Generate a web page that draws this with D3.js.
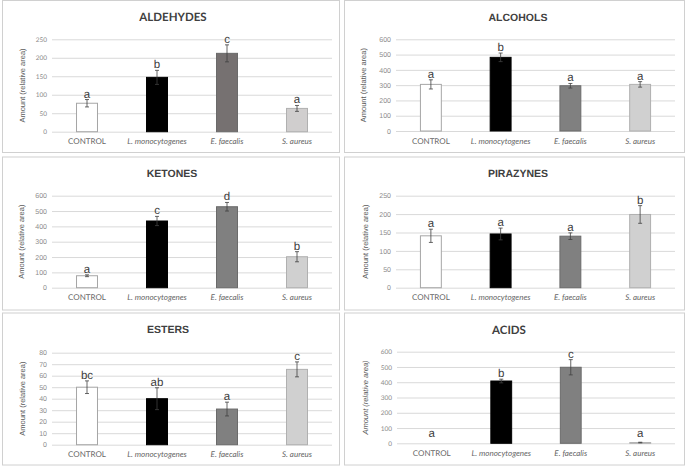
<!DOCTYPE html>
<html><head><meta charset="utf-8">
<script src="https://cdn.jsdelivr.net/npm/d3@7"></script>
<style>body{margin:0;background:#fff}svg{display:block}text{text-rendering:geometricPrecision}</style>
</head><body>
<svg id="c" width="685" height="468"></svg>
<script>
const categories = ["CONTROL", "L. monocytogenes", "E. faecalis", "S. aureus"];

const aldehydesValues = [77, 147, 212, 63];
const aldehydesErrors = [10, 19, 23, 8];
const aldehydesLetters = ["a", "b", "c", "a"];
const aldehydesTicks = [0, 50, 100, 150, 200, 250];

const alcoholsValues = [305, 482, 296, 305];
const alcoholsErrors = [30, 28, 15, 18];
const alcoholsLetters = ["a", "b", "a", "a"];
const alcoholsTicks = [0, 100, 200, 300, 400, 500, 600];

const ketonesValues = [78, 435, 528, 202];
const ketonesErrors = [6, 30, 28, 33];
const ketonesLetters = ["a", "c", "d", "b"];
const ketonesTicks = [0, 100, 200, 300, 400, 500, 600];

const pirazynesValues = [141, 146, 140, 199];
const pirazynesErrors = [18, 16, 9, 24];
const pirazynesLetters = ["a", "a", "a", "b"];
const pirazynesTicks = [0, 50, 100, 150, 200, 250];

const estersValues = [50, 40, 31, 65.5];
const estersErrors = [5.5, 9.5, 6, 6.5];
const estersLetters = ["bc", "ab", "a", "c"];
const estersTicks = [0, 10, 20, 30, 40, 50, 60, 70, 80];

const acidsValues = [0, 408, 498, 5];
const acidsErrors = [0, 12, 50, 2];
const acidsLetters = ["a", "b", "c", "a"];
const acidsTicks = [0, 100, 200, 300, 400, 500, 600];

// layout / style (not data)
const panels = [
  {title:"ALDEHYDES", v:aldehydesValues, e:aldehydesErrors, l:aldehydesLetters, t:aldehydesTicks,
   box:[2,0.5,337,152], x0:52, x1:332, yTop:39.3, yBot:131.7, tx:173, ty:21, lx:22, calibri:true,
   fills:["#ffffff","#000000","#767171","#d0cece"]},
  {title:"ALCOHOLS", v:alcoholsValues, e:alcoholsErrors, l:alcoholsLetters, t:alcoholsTicks,
   box:[344,0.5,340,152], x0:396, x1:675, yTop:39.3, yBot:131, tx:518, ty:21, lx:363,
   fills:["#ffffff","#000000","#808080","#d0d0d0"]},
  {title:"KETONES", v:ketonesValues, e:ketonesErrors, l:ketonesLetters, t:ketonesTicks,
   box:[2,157,337,153], x0:52, x1:332, yTop:195.7, yBot:287.7, tx:172, ty:177, lx:21,
   fills:["#ffffff","#000000","#808080","#d0d0d0"]},
  {title:"PIRAZYNES", v:pirazynesValues, e:pirazynesErrors, l:pirazynesLetters, t:pirazynesTicks,
   box:[344,157,340,153], x0:396, x1:675, yTop:195.7, yBot:287.7, tx:518, ty:177, lx:365,
   fills:["#ffffff","#000000","#808080","#d0d0d0"]},
  {title:"ESTERS", v:estersValues, e:estersErrors, l:estersLetters, t:estersTicks,
   box:[2,313,337,152], x0:52, x1:332, yTop:352.7, yBot:444.7, tx:168, ty:333, lx:22,
   fills:["#ffffff","#000000","#808080","#d0d0d0"]},
  {title:"ACIDS", v:acidsValues, e:acidsErrors, l:acidsLetters, t:acidsTicks,
   box:[344,313,340,152], x0:397, x1:675, yTop:351.7, yBot:443.3, tx:509, ty:334, lx:365, calibri:true,
   fills:["#ffffff","#000000","#808080","#d0d0d0"]}
];
const strokes = ["#a6a6a6","#000000","#6a6a6a","#b0b0b0"];

const svg = d3.select("#c");

panels.forEach(p => {
  const g = svg.append("g");
  g.append("rect").attr("x", p.box[0]+0.5).attr("y", p.box[1]).attr("width", p.box[2]).attr("height", p.box[3])
    .attr("fill", "#fff").attr("stroke", "#d0d0d0").attr("stroke-width", 1);

  const x = d3.scaleBand().domain(categories).range([p.x0, p.x1]).paddingInner(0.686).paddingOuter(0.343);
  const y = d3.scaleLinear().domain([0, d3.max(p.t)]).range([p.yBot, p.yTop]);

  const grid = g.append("g").attr("transform", `translate(${p.x0},0)`)
    .call(d3.axisLeft(y).tickValues(p.t).tickSize(-(p.x1 - p.x0)).tickFormat(""));
  grid.select(".domain").remove();
  grid.selectAll("line").attr("stroke", "#d9d9d9").attr("stroke-width", 1);

  const ya = g.append("g").attr("transform", `translate(${p.x0 - 5},0)`)
    .call(d3.axisLeft(y).tickValues(p.t).tickSize(0).tickPadding(0));
  ya.select(".domain").remove();
  ya.selectAll("text").attr("fill", "#8c8c8c")
    .style("font-family", p.calibri ? "Lato, sans-serif" : "'Liberation Sans', Arial, sans-serif")
    .style("font-size", p.calibri ? "6.5px" : "7px");

  const xa = g.append("g").attr("transform", `translate(0,${p.yBot})`)
    .call(d3.axisBottom(x).tickSize(0).tickPadding(7));
  xa.select(".domain").remove();
  xa.selectAll("text").attr("fill", "#666666")
    .style("font-family", "Lato, 'Liberation Sans', sans-serif").style("font-size", "8px")
    .style("font-style", d => d === "CONTROL" ? "normal" : "italic");

  const data = categories.map((c, i) => ({c, v:p.v[i], e:p.e[i], l:p.l[i], i}));
  g.selectAll("rect.bar").data(data.filter(d => d.v > 0)).join("rect").attr("class", "bar")
    .attr("x", d => x(d.c) + 0.5).attr("width", x.bandwidth() - 1)
    .attr("y", d => y(d.v)).attr("height", d => y(0) - y(d.v))
    .attr("fill", d => p.fills[d.i]).attr("stroke", d => strokes[d.i]).attr("stroke-width", 1);

  const eb = g.selectAll("g.eb").data(data.filter(d => d.e > 0)).join("g").attr("class", "eb")
    .attr("stroke", "#404040").attr("stroke-width", 0.8);
  const cx = d => x(d.c) + x.bandwidth() / 2;
  eb.append("line").attr("x1", cx).attr("x2", cx).attr("y1", d => y(d.v + d.e)).attr("y2", d => y(d.v - d.e));
  eb.append("line").attr("x1", d => cx(d) - 2).attr("x2", d => cx(d) + 2).attr("y1", d => y(d.v + d.e)).attr("y2", d => y(d.v + d.e));
  eb.append("line").attr("x1", d => cx(d) - 2).attr("x2", d => cx(d) + 2).attr("y1", d => y(d.v - d.e)).attr("y2", d => y(d.v - d.e));

  g.selectAll("text.lt").data(data).join("text").attr("class", "lt")
    .attr("x", cx).attr("y", d => Math.round(Math.min(y(d.v + d.e) - 2, y(0) - 6)))
    .attr("text-anchor", "middle").attr("fill", "#404040")
    .style("font-family", "'Liberation Sans', Arial, sans-serif").style("font-size", "11.5px")
    .text(d => d.l);

  g.append("text").attr("transform", `translate(${p.lx + 3},${(p.yTop + p.yBot) / 2}) rotate(-90)`)
    .attr("text-anchor", "middle").attr("fill", "#595959")
    .style("font-family", "'Liberation Sans', Arial, sans-serif").style("font-size", "7.5px")
    .style("font-style", p.title === "ACIDS" ? "italic" : "normal")
    .text("Amount (relative area)");

  g.append("text").attr("x", p.tx).attr("y", p.ty).attr("text-anchor", "middle").attr("fill", "#404040")
    .style("font-family", p.calibri ? "Lato, sans-serif" : "'Liberation Sans', Arial, sans-serif")
    .style("font-weight", "bold").style("font-size", p.calibri ? "11.5px" : "10.5px")
    .text(p.title);
});
</script>
</body></html>
